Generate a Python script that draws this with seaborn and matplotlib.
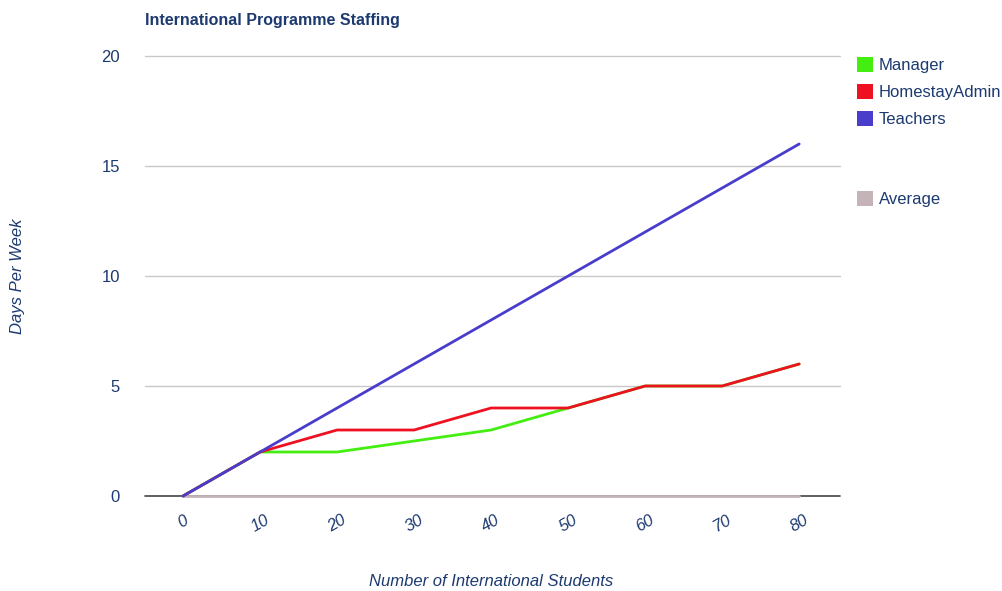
import matplotlib
matplotlib.use("Agg")
import matplotlib.pyplot as plt
from matplotlib.patches import Patch
import seaborn as sns
import pandas as pd

# chart data
students = [0, 10, 20, 30, 40, 50, 60, 70, 80]
manager = [0, 2, 2, 2.5, 3, 4, 5, 5, 6]
homestay_admin = [0, 2, 3, 3, 4, 4, 5, 5, 6]
teachers = [0, 2, 4, 6, 8, 10, 12, 14, 16]
average = [0, 0, 0, 0, 0, 0, 0, 0, 0]
y_ticks = [0, 5, 10, 15, 20]

series_names = ["Manager", "HomestayAdmin", "Teachers", "Average"]
colors = {"Manager": "#44ee11", "HomestayAdmin": "#ee1122",
          "Teachers": "#4a3dcc", "Average": "#c4b4b8"}
text_color = "#1d3a70"

sns.set_style("white")
plt.rcParams["font.family"] = ["Liberation Sans", "DejaVu Sans"]

df = pd.DataFrame({
    "students": students * 4,
    "days": average + manager + homestay_admin + teachers,
    "series": (["Average"] * 9 + ["Manager"] * 9
               + ["HomestayAdmin"] * 9 + ["Teachers"] * 9),
})

fig = plt.figure(figsize=(10.03, 5.91), dpi=100)
ax = fig.add_axes([145 / 1003, 95 / 591, 695 / 1003, 440 / 591])

# gridlines + baseline
for t in y_ticks[1:]:
    ax.axhline(t, color="#c8c8c8", lw=1, zorder=0)
ax.axhline(0, color="#444444", lw=1.2, zorder=0, clip_on=False)

sns.lineplot(data=df, x="students", y="days", hue="series",
             palette=colors, linewidth=2, legend=False, ax=ax,
             sort=False, zorder=2)
for line in ax.get_lines():
    line.set_clip_on(False)

ax.set_xlim(-4.94, 85.3)
ax.set_ylim(0, 20)
ax.set_xticks(students)
ax.set_xticklabels([str(s) for s in students], rotation=30,
                   fontsize=12, color=text_color, style="italic")
ax.set_yticks(y_ticks)
ax.set_yticklabels([str(t) for t in y_ticks], fontsize=12, color=text_color)
ax.tick_params(axis="x", length=0, pad=12)
ax.tick_params(axis="y", length=0, pad=18)
for s in ax.spines.values():
    s.set_visible(False)

ax.set_xlabel("")
ax.set_ylabel("")
fig.text(491 / 1003, 1 - 581 / 591, "Number of International Students",
         ha="center", va="center", fontsize=12, style="italic", color=text_color)
fig.text(18 / 1003, 1 - 276 / 591, "Days Per Week", rotation=90,
         ha="center", va="center", fontsize=12, style="italic", color=text_color)
fig.text(145 / 1003, 1 - 20 / 591, "International Programme Staffing",
         ha="left", va="center", fontsize=11.5, fontweight="bold", color=text_color)

# legend with a gap before Average
blank = Patch(facecolor="none", edgecolor="none")
handles = [Patch(facecolor=colors[n], edgecolor="none") for n in series_names[:3]]
handles += [blank, blank, Patch(facecolor=colors["Average"], edgecolor="none")]
labels = series_names[:3] + ["", "", "Average"]
leg = fig.legend(handles, labels, loc="upper left",
                 bbox_to_anchor=(857 / 1003, 1 - 57 / 591), frameon=False,
                 fontsize=12, handlelength=0.95, handleheight=1.0,
                 handletextpad=0.35, labelspacing=0.64, borderaxespad=0,
                 borderpad=0)
for t in leg.get_texts():
    t.set_color(text_color)

fig.savefig("out.png", dpi=100)
